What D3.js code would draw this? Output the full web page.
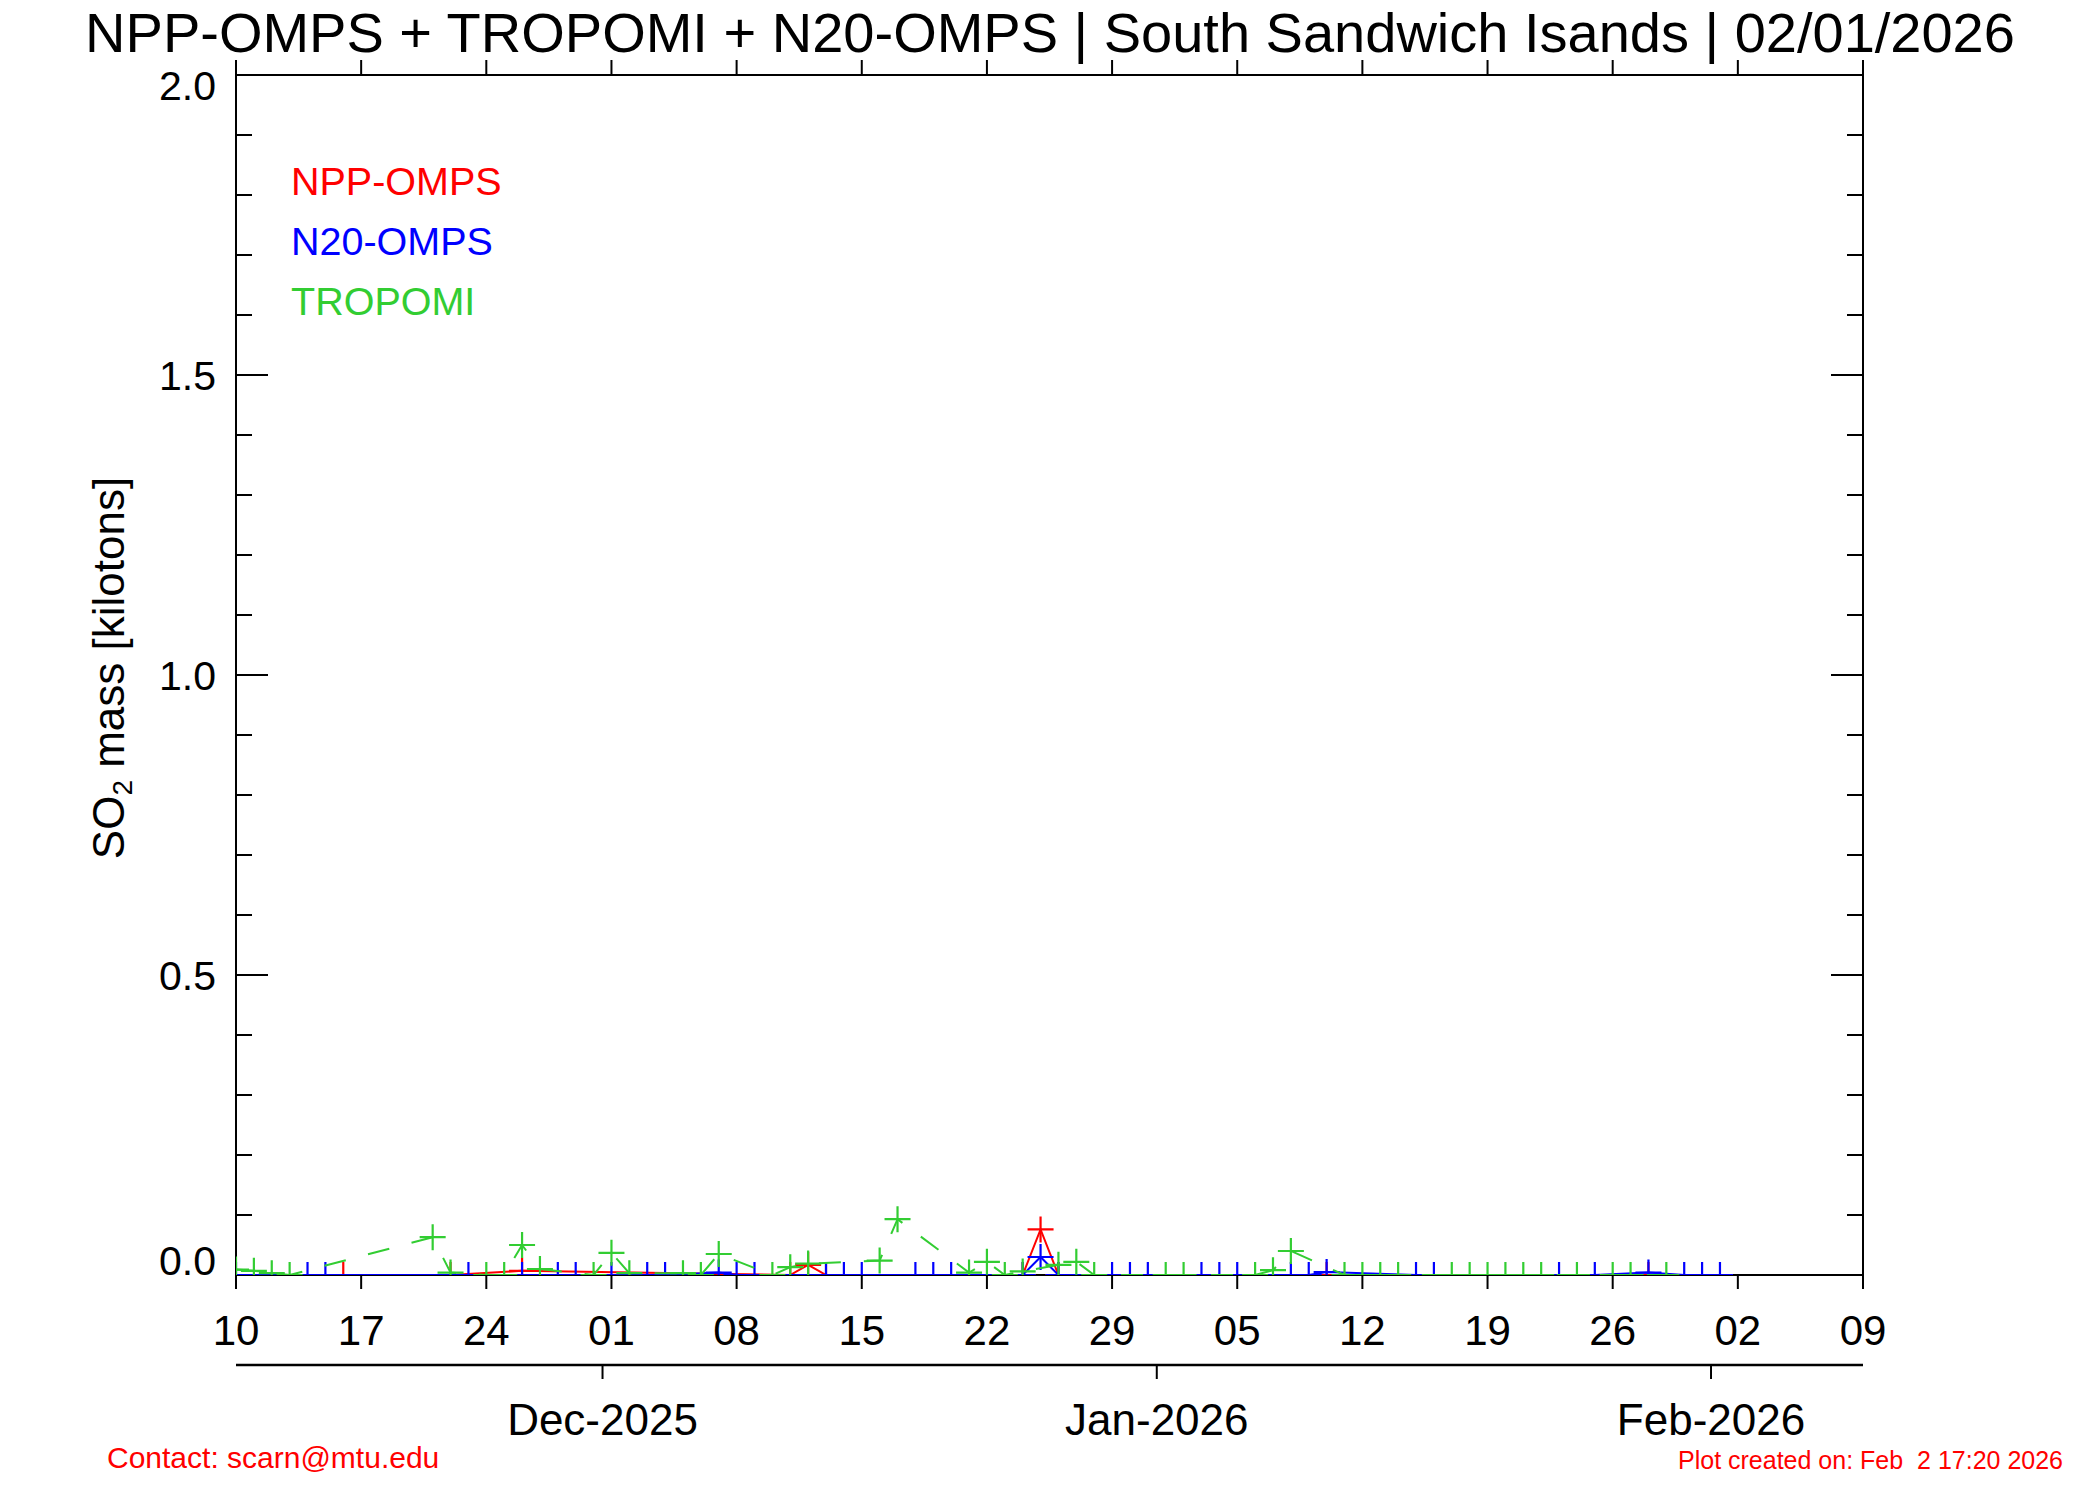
<!DOCTYPE html>
<html>
<head>
<meta charset="utf-8">
<script src="https://cdn.jsdelivr.net/npm/d3@7"></script>
<style>
  html, body { margin: 0; padding: 0; background: #fff; }
  svg { display: block; }
  text { font-family: "Liberation Sans", Arial, Helvetica, sans-serif; }
</style>
</head>
<body>
<script>
// ---------------- DATA ----------------
const titleText = "NPP-OMPS + TROPOMI + N20-OMPS | South Sandwich Isands | 02/01/2026";
const yTitleMain = "SO";
const yTitleSub = "2";
const yTitleRest = " mass [kilotons]";

const xDomain = ["2025-11-10", "2026-02-09"];
const xTickDates = ["2025-11-10","2025-11-17","2025-11-24","2025-12-01","2025-12-08","2025-12-15",
  "2025-12-22","2025-12-29","2026-01-05","2026-01-12","2026-01-19","2026-01-26","2026-02-02","2026-02-09"];
const xTickLabels = ["10","17","24","01","08","15","22","29","05","12","19","26","02","09"];
const monthTickDates = ["2025-11-30T12:00:00Z","2025-12-31T12:00:00Z","2026-01-31T12:00:00Z"];
const monthTickLabels = ["Dec-2025","Jan-2026","Feb-2026"];

const yDomain = [0, 2.0];
const yMajorTicks = [0, 0.5, 1.0, 1.5, 2.0];
const yMajorLabels = ["0.0","0.5","1.0","1.5","2.0"];
const yMinorTicks = [0.1,0.2,0.3,0.4,0.6,0.7,0.8,0.9,1.1,1.2,1.3,1.4,1.6,1.7,1.8,1.9];

const seriesNames = ["NPP-OMPS", "N20-OMPS", "TROPOMI"];
const seriesColors = ["#ff0000", "#0000ff", "#32cd32"];

const nppDates = ["2025-11-16","2025-11-22","2025-11-26","2025-12-11","2025-12-12","2025-12-13",
  "2025-12-24","2025-12-25","2025-12-26","2026-01-10","2026-01-28"];
const nppValues = [0, 0, 0.007, 0, 0.017, 0, 0, 0.076, 0, 0, 0];

const n20Dates = ["2025-11-10","2025-11-14","2025-11-15","2025-11-23","2025-11-26","2025-11-28","2025-11-29",
  "2025-12-01","2025-12-03","2025-12-04","2025-12-07","2025-12-08","2025-12-09","2025-12-13","2025-12-14",
  "2025-12-15","2025-12-18","2025-12-19","2025-12-20","2025-12-24","2025-12-25","2025-12-26","2025-12-29",
  "2025-12-30","2025-12-31","2026-01-03","2026-01-04","2026-01-05","2026-01-08","2026-01-09","2026-01-10",
  "2026-01-15","2026-01-16","2026-01-23","2026-01-25","2026-01-28","2026-01-30","2026-01-31","2026-02-01"];
const n20Values = [0,0,0,0,0,0,0,
  0,0,0,0.004,0,0,0,0,
  0,0,0,0,0,0.03,0,0,
  0,0,0,0,0,0,0,0.005,
  0,0,0,0,0.004,0,0,0];

const tropDates = ["2025-11-10","2025-11-11","2025-11-12","2025-11-13","2025-11-21","2025-11-22","2025-11-24",
  "2025-11-25","2025-11-26","2025-11-27","2025-11-30","2025-12-01","2025-12-02","2025-12-05","2025-12-06",
  "2025-12-07","2025-12-10","2025-12-11","2025-12-12","2025-12-16","2025-12-17","2025-12-21","2025-12-22",
  "2025-12-23","2025-12-24","2025-12-26","2025-12-27","2025-12-28","2026-01-01","2026-01-02","2026-01-06",
  "2026-01-07","2026-01-08","2026-01-11","2026-01-12","2026-01-13","2026-01-14","2026-01-17","2026-01-18",
  "2026-01-19","2026-01-20","2026-01-21","2026-01-22","2026-01-24","2026-01-26","2026-01-27","2026-01-29"];
const tropValues = [0.009,0.007,0.003,0,0.063,0.004,0,
  0,0.05,0.01,0,0.037,0.003,0.003,0,
  0.035,0,0.013,0.019,0.024,0.093,0.004,0.022,
  0,0.006,0.017,0.022,0,0,0,0,
  0.008,0.04,0,0,0,0,0,0,
  0,0,0,0,0,0,0,0];

const contactText = "Contact: scarn@mtu.edu";
const createdText = "Plot created on: Feb  2 17:20 2026";

// ---------------- LAYOUT ----------------
const W = 2100, H = 1500;
const L = 236, R = 1863, T = 75, B = 1275;

const svg = d3.select("body").append("svg").attr("width", W).attr("height", H);
svg.append("rect").attr("width", W).attr("height", H).attr("fill", "#fff");

const parse = s => new Date(s.length > 10 ? s : s + "T00:00:00Z");
const x = d3.scaleUtc().domain(xDomain.map(parse)).range([L, R]);
const y = d3.scaleLinear().domain(yDomain).range([B, T]);

// Title
const title = svg.append("text").attr("x", 1050).attr("y", 52).attr("text-anchor", "middle")
  .attr("font-size", 53).attr("fill", "#000").text(titleText);
const tw = title.node().getComputedTextLength();
title.attr("font-size", 53 * 1930 / tw);

// Plot frame
const frame = svg.append("g").attr("stroke", "#000").attr("stroke-width", 2).attr("fill", "none");
frame.append("rect").attr("x", L).attr("y", T).attr("width", R - L).attr("height", B - T);

// X weekly ticks: bottom (outward/down) and top (outward/up)
const xt = xTickDates.map(parse);
const gx = svg.append("g");
gx.selectAll("line.xb").data(xt).join("line")
  .attr("x1", d => x(d)).attr("x2", d => x(d)).attr("y1", B).attr("y2", B + 14)
  .attr("stroke", "#000").attr("stroke-width", 2);
gx.selectAll("line.xt").data(xt).join("line")
  .attr("x1", d => x(d)).attr("x2", d => x(d)).attr("y1", T).attr("y2", T - 15)
  .attr("stroke", "#000").attr("stroke-width", 2);
gx.selectAll("text").data(xt).join("text")
  .attr("x", d => x(d)).attr("y", 1345).attr("text-anchor", "middle")
  .attr("font-size", 42).attr("fill", "#000")
  .text((d, i) => xTickLabels[i]);

// Lower month axis
const gm = svg.append("g");
gm.append("line").attr("x1", L).attr("x2", R).attr("y1", 1365).attr("y2", 1365)
  .attr("stroke", "#000").attr("stroke-width", 2.5);
const mt = monthTickDates.map(parse);
gm.selectAll("line.m").data(mt).join("line")
  .attr("x1", d => x(d)).attr("x2", d => x(d)).attr("y1", 1365).attr("y2", 1379)
  .attr("stroke", "#000").attr("stroke-width", 2);
gm.selectAll("text").data(mt).join("text")
  .attr("x", d => x(d)).attr("y", 1435).attr("text-anchor", "middle")
  .attr("font-size", 44).attr("fill", "#000")
  .text((d, i) => monthTickLabels[i]);

// Y ticks (inward on both sides)
const gy = svg.append("g").attr("stroke", "#000").attr("stroke-width", 2);
yMajorTicks.forEach(v => {
  gy.append("line").attr("x1", L).attr("x2", L + 32).attr("y1", y(v)).attr("y2", y(v));
  gy.append("line").attr("x1", R).attr("x2", R - 32).attr("y1", y(v)).attr("y2", y(v));
});
yMinorTicks.forEach(v => {
  gy.append("line").attr("x1", L).attr("x2", L + 16).attr("y1", y(v)).attr("y2", y(v));
  gy.append("line").attr("x1", R).attr("x2", R - 16).attr("y1", y(v)).attr("y2", y(v));
});
svg.append("g").selectAll("text").data(yMajorTicks).join("text")
  .attr("x", 216).attr("text-anchor", "end").attr("font-size", 41).attr("fill", "#000")
  .attr("y", d => Math.max(100, Math.min(B, y(d) + 15)))
  .text((d, i) => yMajorLabels[i]);

// Y title
const yt = svg.append("text").attr("transform", "translate(124,668) rotate(-90)")
  .attr("text-anchor", "middle").attr("font-size", 44).attr("fill", "#000");
yt.append("tspan").text(yTitleMain);
yt.append("tspan").attr("font-size", 28).attr("dy", 8).text(yTitleSub);
yt.append("tspan").attr("dy", -8).text(yTitleRest);

// Legend
seriesNames.forEach((n, i) => {
  svg.append("text").attr("x", 291).attr("y", 195 + i * 60).attr("font-size", 39.5)
    .attr("fill", seriesColors[i]).text(n);
});

// Data
svg.append("clipPath").attr("id", "clip").append("rect")
  .attr("x", L).attr("y", T).attr("width", R - L).attr("height", B - T);
const gd = svg.append("g").attr("clip-path", "url(#clip)");

const series = [
  { dates: nppDates, values: nppValues, color: seriesColors[0], dash: null },
  { dates: n20Dates, values: n20Values, color: seriesColors[1], dash: null },
  { dates: tropDates, values: tropValues, color: seriesColors[2], dash: "22,23" }
];
const line = d3.line().x(d => x(d[0])).y(d => y(d[1]));
const S = 13;
series.forEach(s => {
  const pts = s.dates.map((d, i) => [parse(d), s.values[i]]);
  gd.append("path").datum(pts).attr("d", line).attr("fill", "none")
    .attr("stroke", s.color).attr("stroke-width", 2)
    .attr("stroke-dasharray", s.dash);
  const g = gd.append("g").attr("stroke", s.color).attr("stroke-width", 2.2);
  g.selectAll("path").data(pts).join("path")
    .attr("d", d => {
      const cx = x(d[0]), cy = y(d[1]);
      return `M${cx - S},${cy}H${cx + S}M${cx},${cy - S}V${cy + S}`;
    });
});

// Footer
svg.append("text").attr("x", 107).attr("y", 1468).attr("font-size", 30).attr("fill", "#ff0000")
  .text(contactText);
svg.append("text").attr("x", 2063).attr("y", 1469).attr("text-anchor", "end").attr("font-size", 25)
  .attr("fill", "#ff0000").attr("xml:space", "preserve").style("white-space", "pre").text(createdText);
</script>
</body>
</html>
